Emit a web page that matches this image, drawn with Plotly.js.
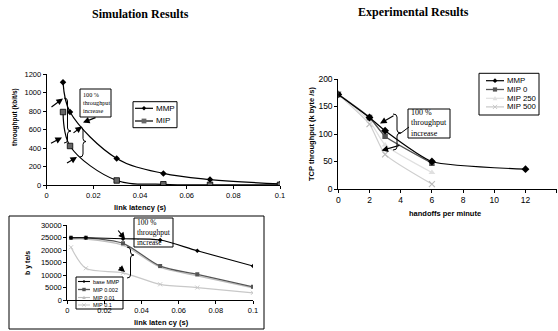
<!DOCTYPE html>
<html><head><meta charset="utf-8">
<script src="https://cdn.plot.ly/plotly-3.0.1.min.js"></script>
<style>html,body{margin:0;padding:0;background:#fff}</style>
</head><body><div id="c" style="width:558px;height:331px"></div>
<script>
// ---- Top-left: Simulation throughput (kbit/s) vs link latency (s)
const simLatency = [0.007, 0.01, 0.03, 0.05, 0.07, 0.1];
const simMMP = [1110, 790, 290, 128, 62, 15];
const simMIP = [790, 424, 52, 11, 5, 5];

// ---- Bottom-left: byte/s vs link latency (s)
const latency2 = [0.002, 0.01, 0.03, 0.05, 0.07, 0.1];
const baseMMP = [25000, 25000, 24600, 24100, 19800, 13700];
const mip0002 = [25000, 25000, 22800, 13700, 10400, 5400];
const mip001 = [24500, 24500, 22000, 13200, 9800, 5000];
const mip01 = [21200, 12800, 11000, 6400, 5100, 3000];

// ---- Right: Experimental TCP throughput (k byte/s) vs handoffs per minute
const handoffs = [0, 2, 3, 6, 12];
const expMMP = [172, 130, 106, 50, 36];
const handoffsMIP = [0, 2, 3, 6];
const expMIP0 = [172, 130, 96, 47];
const expMIP250 = [172, 124, 80, 30];
const expMIP500 = [172, 118, 63, 9];

// labels
const legend1Names = ['MMP', 'MIP'];
const legend2Names = ['base MMP', 'MIP 0.002', 'MIP 0.01', 'MIP 0.1'];
const legend3Names = ['MMP', 'MIP 0', 'MIP 250', 'MIP 500'];
const boxText = '100 %<br>throughput<br>increase';

const W = 558, H = 331;
const X = p => p / W, Y = p => 1 - p / H;
const ARIAL = 'Liberation Sans, Arial, sans-serif';
const SERIF = 'Liberation Serif, Times New Roman, serif';

const traces = [
  {x: simLatency, y: simMMP, xaxis: 'x', yaxis: 'y', mode: 'lines+markers', line: {color: '#000', width: 1.2, shape: 'spline'}, marker: {symbol: 'diamond', size: 5, color: '#000'}},
  {x: simLatency, y: simMIP, xaxis: 'x', yaxis: 'y', mode: 'lines+markers', line: {color: '#000', width: 1.2, shape: 'spline'}, marker: {symbol: 'square', size: 5.5, color: '#666', line: {color: '#000', width: 0.8}}},

  {x: latency2, y: mip01, xaxis: 'x2', yaxis: 'y2', mode: 'lines+markers', line: {color: '#c8c8c8', width: 1.2, shape: 'spline', smoothing: 0.8}, marker: {symbol: 'x-thin', size: 4, color: '#c8c8c8', line: {color: '#c8c8c8', width: 1}}},
  {x: latency2, y: mip001, xaxis: 'x2', yaxis: 'y2', mode: 'lines+markers', line: {color: '#bdbdbd', width: 1.2, shape: 'spline', smoothing: 0.8}, marker: {symbol: 'triangle-up', size: 4, color: '#bdbdbd'}},
  {x: latency2, y: mip0002, xaxis: 'x2', yaxis: 'y2', mode: 'lines+markers', line: {color: '#555', width: 1.3, shape: 'spline', smoothing: 0.8}, marker: {symbol: 'square', size: 4, color: '#555'}},
  {x: latency2, y: baseMMP, xaxis: 'x2', yaxis: 'y2', mode: 'lines+markers', line: {color: '#000', width: 1.1, shape: 'spline', smoothing: 0.8}, marker: {symbol: 'diamond', size: 3.5, color: '#000'}},

  {x: handoffsMIP, y: expMIP500, xaxis: 'x3', yaxis: 'y3', mode: 'lines+markers', line: {color: '#cfcfcf', width: 1.2, shape: 'spline', smoothing: 0.5}, marker: {symbol: 'x-thin', size: 6, color: '#bbb', line: {color: '#bbb', width: 1.2}}},
  {x: handoffsMIP, y: expMIP250, xaxis: 'x3', yaxis: 'y3', mode: 'lines+markers', line: {color: '#e0e0e0', width: 1.2, shape: 'spline', smoothing: 0.5}, marker: {symbol: 'triangle-up', size: 6, color: '#e0e0e0'}},
  {x: handoffsMIP, y: expMIP0, xaxis: 'x3', yaxis: 'y3', mode: 'lines+markers', line: {color: '#555', width: 1.3, shape: 'spline', smoothing: 0.5}, marker: {symbol: 'square', size: 5.5, color: '#555'}},
  {x: handoffs, y: expMMP, xaxis: 'x3', yaxis: 'y3', mode: 'lines+markers', line: {color: '#000', width: 1.2, shape: 'spline', smoothing: 0.5}, marker: {symbol: 'diamond', size: 6, color: '#000'}}
];
traces.forEach(t => { t.showlegend = false; t.hoverinfo = 'skip'; });

function ax(domain, range, dtick, font, extra) {
  return Object.assign({domain: domain, range: range, dtick: dtick, tick0: 0, showline: true, linecolor: '#000', linewidth: 1,
    ticks: 'outside', ticklen: 3, tickcolor: '#000', tickwidth: 1, showgrid: false, zeroline: false, fixedrange: true,
    tickfont: font}, extra || {});
}
const f1 = {family: ARIAL, size: 7.5, color: '#000'};
const f2 = {family: ARIAL, size: 7.5, color: '#000'};
const f3 = {family: ARIAL, size: 8.5, color: '#000'};

const shapes = [];
const annotations = [];

function txt(text, px, py, font, extra) {
  annotations.push(Object.assign({text: text, x: X(px), y: Y(py), xref: 'paper', yref: 'paper', showarrow: false, font: font, xanchor: 'center', yanchor: 'middle'}, extra || {}));
}
function arrow(tx, ty, hx, hy) {
  annotations.push({text: '', x: X(hx), y: Y(hy), xref: 'paper', yref: 'paper', showarrow: true, ax: tx - hx, ay: ty - hy,
    arrowhead: 2, arrowsize: 1.1, arrowwidth: 1.2, arrowcolor: '#000'});
}
function brace(x, y1, y2, ym, w) {
  const m = x + w / 2, d = Math.min(3, (y2 - y1) / 5);
  const P = (a, b) => X(a) + ',' + Y(b);
  shapes.push({type: 'path', xref: 'paper', yref: 'paper', line: {color: '#000', width: 1},
    path: 'M ' + P(x, y1) + ' Q ' + P(m, y1) + ' ' + P(m, y1 + d) + ' L ' + P(m, ym - d) + ' Q ' + P(m, ym) + ' ' + P(x + w, ym) +
      ' Q ' + P(m, ym) + ' ' + P(m, ym + d) + ' L ' + P(m, y2 - d) + ' Q ' + P(m, y2) + ' ' + P(x, y2)});
}
function textBox(x0, y0, x1, y1, size) {
  shapes.push({type: 'rect', xref: 'paper', yref: 'paper', x0: X(x0), x1: X(x1), y0: Y(y1), y1: Y(y0), line: {color: '#000', width: 1}});
  txt(boxText, x0 + 2, (y0 + y1) / 2, {family: SERIF, size: size, color: '#000'}, {xanchor: 'left', align: 'left', borderpad: 0});
}
function line(x0, y0, x1, y1, color, width) {
  shapes.push({type: 'line', xref: 'paper', yref: 'paper', x0: X(x0), y0: Y(y0), x1: X(x1), y1: Y(y1), line: {color: color, width: width}});
}
function symbol(kind, cx, cy, s, color) {
  const P = (a, b) => X(a) + ',' + Y(b);
  if (kind === 'square') {
    shapes.push({type: 'rect', xref: 'paper', yref: 'paper', x0: X(cx - s), x1: X(cx + s), y0: Y(cy + s), y1: Y(cy - s), fillcolor: color, line: {width: 0}});
  } else if (kind === 'diamond') {
    shapes.push({type: 'path', xref: 'paper', yref: 'paper', fillcolor: color, line: {width: 0},
      path: 'M ' + P(cx, cy - s) + ' L ' + P(cx + s, cy) + ' L ' + P(cx, cy + s) + ' L ' + P(cx - s, cy) + ' Z'});
  } else if (kind === 'triangle') {
    shapes.push({type: 'path', xref: 'paper', yref: 'paper', fillcolor: color, line: {width: 0},
      path: 'M ' + P(cx, cy - s) + ' L ' + P(cx + s, cy + s * 0.8) + ' L ' + P(cx - s, cy + s * 0.8) + ' Z'});
  } else if (kind === 'x') {
    line(cx - s, cy - s, cx + s, cy + s, color, 1);
    line(cx - s, cy + s, cx + s, cy - s, color, 1);
  }
}
function legendBox(box, rows, sx0, sx1, textX, font, names, styles) {
  shapes.push({type: 'rect', xref: 'paper', yref: 'paper', x0: X(box[0]), x1: X(box[2]), y0: Y(box[3]), y1: Y(box[1]), line: {color: '#000', width: 1}});
  names.forEach((n, i) => {
    const st = styles[i];
    line(sx0, rows[i], sx1, rows[i], st.color, st.width);
    symbol(st.sym, (sx0 + sx1) / 2, rows[i], st.s, st.mcolor || st.color);
    txt(n, textX, rows[i], font, {xanchor: 'left'});
  });
}

// Titles
txt('<b>Simulation Results</b>', 140, 14, {family: SERIF, size: 12, color: '#000'});
txt('<b>Experimental Results</b>', 413, 12.5, {family: SERIF, size: 12, color: '#000'});

// Top-left axis titles
txt('<b>throughput (kbit/s)</b>', 15, 117, {family: ARIAL, size: 6.5, color: '#000'}, {textangle: -90});
txt('<b>link latency (s)</b>', 140, 207, {family: ARIAL, size: 7.5, color: '#000'});
// Bottom-left axis titles
txt('<b>b y te/s</b>', 28, 263, {family: ARIAL, size: 7, color: '#000'}, {textangle: -90});
txt('<b>link laten cy (s)</b>', 161, 322, {family: ARIAL, size: 7.5, color: '#000'});
// Right axis titles
txt('<b>TCP throughput (k byte /s)</b>', 311, 134, {family: ARIAL, size: 7.5, color: '#000'}, {textangle: -90});
txt('<b>handoffs per minute</b>', 445, 214, {family: ARIAL, size: 7.5, color: '#000'});

// Frame around the bottom-left chart
shapes.push({type: 'rect', xref: 'paper', yref: 'paper', x0: X(9), x1: X(264), y0: Y(329), y1: Y(216), line: {color: '#000', width: 1}});

// Legends
legendBox([133, 101.7, 177, 127.7], [108.3, 121], 135, 153, 154, {family: ARIAL, size: 8, color: '#000'}, legend1Names,
  [{color: '#000', width: 1.2, sym: 'diamond', s: 2.2}, {color: '#000', width: 1.2, sym: 'square', s: 2.4, mcolor: '#666'}]);
legendBox([76, 277, 123, 309], [281.5, 289.5, 297.5, 305], 78, 90, 91, {family: ARIAL, size: 5.5, color: '#000'}, legend2Names,
  [{color: '#000', width: 1.1, sym: 'diamond', s: 1.6}, {color: '#555', width: 1.3, sym: 'square', s: 1.7},
   {color: '#bdbdbd', width: 1.1, sym: 'triangle', s: 1.8}, {color: '#c8c8c8', width: 1.1, sym: 'x', s: 1.6}]);
legendBox([479, 73.3, 539, 115], [80.7, 89.5, 98.3, 106.9], 486, 504, 505, {family: ARIAL, size: 7.8, color: '#000'}, legend3Names,
  [{color: '#000', width: 1.2, sym: 'diamond', s: 2.4}, {color: '#555', width: 1.3, sym: 'square', s: 2.1},
   {color: '#e0e0e0', width: 1.2, sym: 'triangle', s: 2.4}, {color: '#c8c8c8', width: 1.2, sym: 'x', s: 2.1}]);

// Annotation boxes, braces, arrows
textBox(80, 89, 111, 117, 6.2);
brace(64, 98, 143, 131, 7);
brace(80, 127, 157, 141.5, 6);
arrow(50, 108, 63, 98.5);
arrow(49.5, 144, 62, 137.5);
arrow(72, 134, 82, 126.5);
arrow(65.5, 164, 77, 157);
arrow(97, 117, 83, 122.5);

textBox(134, 218, 173, 247, 7.5);
brace(127, 247, 278, 255, 7);
arrow(117, 229, 125, 239);
arrow(118, 266, 125, 272);

textBox(408, 109, 450, 138, 8);
brace(393, 114, 150, 133, 8);
line(401, 133, 409, 127, '#000', 1);
arrow(395, 115, 380, 123.5);
arrow(401, 145, 381.5, 150.5);

const layout = {
  width: W, height: H, margin: {l: 0, r: 0, t: 0, b: 0}, paper_bgcolor: '#fff', plot_bgcolor: 'rgba(0,0,0,0)',
  showlegend: false,
  xaxis: ax([X(46.7), X(280)], [0, 0.1], 0.02, f1, {anchor: 'y'}),
  yaxis: ax([Y(185.3), Y(74)], [0, 1200], 200, f1, {anchor: 'x', tickformat: 'd'}),
  xaxis2: ax([X(67.3), X(253)], [0, 0.1], 0.02, f2, {anchor: 'y2'}),
  yaxis2: ax([Y(300.3), Y(225.3)], [0, 30000], 5000, f2, {anchor: 'x2', tickformat: 'd'}),
  xaxis3: ax([X(338.3), X(556.7)], [0, 14], 2, f3, {anchor: 'y3'}),
  yaxis3: ax([Y(189), Y(79)], [0, 200], 50, f3, {anchor: 'x3'}),
  shapes: shapes, annotations: annotations
};
Plotly.newPlot('c', traces, layout, {staticPlot: true, displayModeBar: false});
</script></body></html>
